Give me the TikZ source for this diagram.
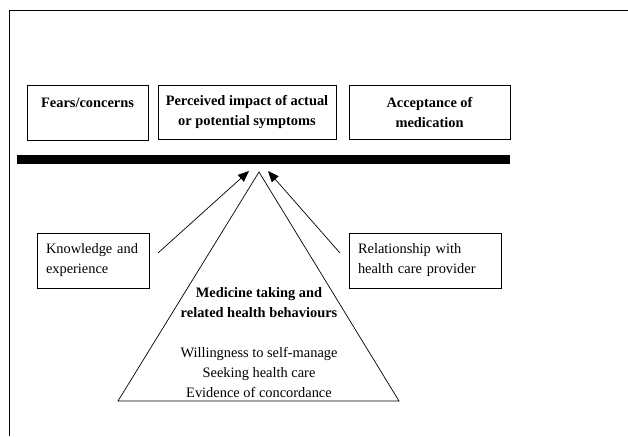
\documentclass[tikz,border=0pt]{standalone}
\usepackage{fontspec}
\setmainfont{Liberation Serif}
\usetikzlibrary{arrows.meta}

\begin{document}
\begin{tikzpicture}[x=1pt,y=-1pt,
    topbox/.style={draw,line width=0.8pt,inner sep=0pt,align=center,
      font=\fontsize{14.4}{20}\selectfont\bfseries},
    sidebox/.style={draw,line width=0.8pt,inner sep=0pt,inner xsep=9pt,align=left,
      font=\fontsize{14.4}{20}\selectfont},
    pointer/.style={line width=0.7pt,-{Triangle[length=11pt,width=9pt]}}]
\useasboundingbox (0,0) rectangle (628,436);

% frame
\draw[line width=0.9pt] (9,436) -- (9,10) -- (628,10);

    \node[topbox,minimum width=121pt,minimum height=55pt] (fears) at (87.5,112.5) {Fears/concerns\\\mbox{}};
    \node[topbox,minimum width=178pt,minimum height=54pt] (impact) at (247,112) {Perceived impact of actual\\or potential symptoms};
    \node[topbox,minimum width=161pt,minimum height=54pt] (accept) at (429.5,112) {Acceptance of\\medication};

\fill (17,155) rectangle (510,164);

    \node[sidebox,minimum width=112pt,minimum height=55pt,text width=94pt] (know) at (93,260.5) {Knowledge and\\experience};
    \node[sidebox,minimum width=152pt,minimum height=55pt,text width=134pt] (relat) at (425,260.5) {Relationship with\\health care provider};

\coordinate (apex) at (259,172);
\coordinate (baseL) at (118,401);
\coordinate (baseR) at (399,401);
\draw[line width=0.7pt] (apex) -- (baseL) -- (baseR) -- cycle;

\coordinate (knowTail) at (158,253);
\coordinate (knowHead) at (249,171);
\coordinate (relatTail) at (340,253);
\coordinate (relatHead) at (268,171);
\draw[pointer] (knowTail) -- (knowHead);
\draw[pointer] (relatTail) -- (relatHead);

    \node[align=center,font=\fontsize{14.4}{20}\selectfont\bfseries] (medicine) at (259,303) {Medicine taking and\\related health behaviours};
    \node[align=center,font=\fontsize{14.4}{20}\selectfont] (behave) at (259,372) {Willingness to self-manage\\Seeking health care\\Evidence of concordance};
\end{tikzpicture}
\end{document}
